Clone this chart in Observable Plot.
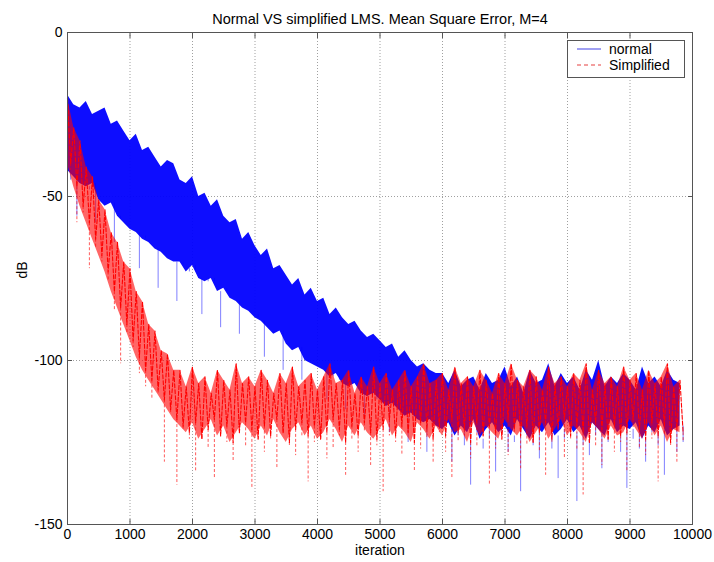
<!DOCTYPE html>
<html>
<head>
<meta charset="utf-8">
<script src="https://cdn.jsdelivr.net/npm/d3@7"></script>
<script src="https://cdn.jsdelivr.net/npm/@observablehq/plot@0.6"></script>
<style>
  body { margin: 0; background: #fff; }
  #wrap { position: relative; width: 714px; height: 562px; background: #fff; }
  #legend { position: absolute; left: 567px; top: 40px; }
</style>
</head>
<body>
<div id="wrap"></div>
<script>
// ---------- data ----------
const chartTitle = "Normal VS simplified LMS. Mean Square Error, M=4";
const xLabel = "iteration";
const yLabel = "dB";
const seriesNames = ["normal", "Simplified"];
const xTicks = [0, 1000, 2000, 3000, 4000, 5000, 6000, 7000, 8000, 9000, 10000];
const yTicks = [-150, -100, -50, 0];
const iterStep = 100; // values read every 100 iterations

// normal LMS: upper edge, lower edge of the dense band, deepest downward spike
const normalHi = [
  -19,-22,-23,-21,-25,-24,-23,-28,-27,-30,
  -33,-31,-36,-35,-38,-41,-39,-40,-45,-46,
  -44,-50,-49,-53,-51,-56,-58,-57,-63,-61,
  -65,-68,-66,-72,-71,-74,-77,-75,-80,-78,
  -82,-81,-86,-84,-87,-89,-88,-91,-93,-92,
  -94,-96,-95,-99,-97,-100,-102,-101,-103,-104,
  -104,-107,-103,-108,-106,-105,-109,-104,-107,-106,
  -102,-108,-105,-110,-103,-107,-106,-101,-108,-104,
  -107,-105,-109,-103,-106,-100,-108,-105,-107,-104,
  -106,-109,-102,-107,-105,-108,-103,-106,-107
];
const normalCore = [
  -42,-44,-46,-47,-46,-51,-53,-52,-56,-58,
  -60,-61,-63,-64,-66,-67,-69,-70,-70,-73,
  -71,-75,-76,-75,-79,-78,-81,-82,-84,-85,
  -87,-88,-90,-92,-91,-95,-97,-96,-100,-101,
  -102,-103,-105,-104,-107,-108,-107,-110,-111,-110,
  -112,-114,-113,-115,-117,-116,-118,-119,-118,-120,
  -121,-119,-123,-120,-122,-118,-124,-121,-119,-122,
  -120,-123,-118,-121,-124,-120,-122,-119,-123,-121,
  -118,-122,-120,-124,-119,-121,-123,-118,-122,-120,
  -121,-119,-124,-120,-122,-118,-123,-121,-120
];
const normalSpike = [
  -45,-56,-46,-48,-58,-51,-53,-64,-57,-58,
  -60,-72,-62,-64,-78,-67,-69,-82,-71,-72,
  -73,-86,-75,-76,-90,-79,-81,-92,-84,-85,
  -86,-99,-90,-92,-103,-95,-97,-106,-100,-101,
  -102,-112,-104,-106,-115,-108,-109,-118,-111,-112,
  -112,-122,-114,-116,-125,-117,-119,-128,-120,-121,
  -123,-131,-120,-126,-138,-122,-127,-124,-134,-121,
  -128,-125,-140,-123,-126,-130,-122,-127,-136,-124,
  -121,-143,-126,-129,-123,-133,-125,-120,-128,-139,
  -124,-127,-131,-122,-126,-135,-123,-128,-125
];

// simplified LMS
const simplifiedHi = [
  -20,-29,-33,-41,-44,-51,-54,-61,-64,-70,
  -72,-79,-82,-89,-91,-97,-98,-103,-103,
  -108,-102,-107,-105,-110,-103,-106,-109,-101,-107,
  -105,-108,-103,-106,-110,-104,-107,-102,-108,-106,
  -104,-109,-105,-101,-107,-106,-103,-110,-105,-108,
  -102,-107,-104,-109,-106,-103,-108,-105,-101,-107,
  -106,-104,-109,-102,-107,-105,-108,-103,-106,-110,
  -104,-107,-101,-106,-108,-103,-105,-109,-102,-107,
  -105,-108,-104,-106,-101,-109,-103,-107,-105,-108,
  -102,-106,-104,-109,-103,-107,-105,-101,-108,-106
];
const simplifiedCore = [
  -40,-47,-53,-58,-63,-68,-73,-79,-84,-89,
  -94,-99,-103,-106,-109,-112,-115,-118,-120,
  -122,-119,-124,-121,-118,-123,-120,-125,-122,-119,
  -121,-124,-120,-123,-118,-122,-125,-121,-119,-123,
  -120,-124,-122,-118,-121,-125,-120,-123,-119,-122,
  -124,-121,-118,-123,-120,-122,-125,-119,-121,-124,
  -120,-123,-118,-122,-121,-125,-119,-123,-120,-122,
  -124,-118,-121,-123,-120,-125,-122,-119,-124,-121,
  -118,-123,-120,-122,-125,-119,-121,-124,-120,-123,
  -122,-118,-121,-124,-119,-123,-120,-125,-121,-122
];
const simplifiedSpike = [
  -42,-58,-55,-72,-66,-70,-76,-85,-101,-92,
  -96,-104,-108,-112,-110,-131,-116,-138,-121,
  -124,-134,-121,-127,-136,-123,-125,-131,-120,-126,
  -139,-122,-128,-124,-133,-121,-126,-129,-123,-137,
  -125,-120,-130,-127,-123,-135,-124,-128,-122,-132,
  -126,-140,-123,-125,-129,-121,-134,-127,-124,-131,
  -122,-128,-136,-125,-123,-130,-126,-121,-138,-127,
  -124,-129,-122,-133,-126,-123,-128,-135,-125,-121,
  -130,-124,-127,-141,-123,-126,-132,-122,-128,-125,
  -134,-121,-127,-129,-124,-137,-123,-126,-131,-125
];

// ---------- build tables ----------
function rows(hi, core, spike, name) {
  return hi.map((h, k) => ({
    series: name,
    iteration: k * iterStep,
    spikeAt: k * iterStep + iterStep / 2,
    hi: h, core: core[k], spike: spike[k]
  }));
}
function zigzag(hi, core) {
  const out = [];
  hi.forEach((h, k) => {
    out.push({iteration: k * iterStep, dB: h});
    out.push({iteration: k * iterStep + iterStep / 2, dB: core[k]});
  });
  return out;
}
const normalRows = rows(normalHi, normalCore, normalSpike, seriesNames[0]);
const simplifiedRows = rows(simplifiedHi, simplifiedCore, simplifiedSpike, seriesNames[1]);
const simplifiedZig = zigzag(simplifiedHi, simplifiedCore);

const blue = "#0000ff", red = "#ff0000";
const font = "'Liberation Sans', Arial, Helvetica, sans-serif";
const gridStyle = {stroke: "#a0a0a0", strokeOpacity: 1, strokeDasharray: "1,2"};

const chart = Plot.plot({
  width: 714,
  height: 562,
  marginLeft: 67,
  marginRight: 22,
  marginTop: 32,
  marginBottom: 38,
  style: {fontFamily: font, fontSize: "14px", background: "#fff", color: "#000", overflow: "visible"},
  x: {domain: [0, 10000], label: null},
  y: {domain: [-150, 0], label: null},
  marks: [
    Plot.gridX(xTicks, gridStyle),
    Plot.gridY(yTicks, gridStyle),
    // normal: dense band + downward spikes
    Plot.ruleX(normalRows, {x: "spikeAt", y1: "core", y2: "spike", stroke: blue, strokeOpacity: 0.5, strokeWidth: 1}),
    Plot.areaY(normalRows, {x: "iteration", y1: "core", y2: "hi", fill: blue, fillOpacity: 0.95}),
    // simplified: dashed red drawn on top
    Plot.ruleX(simplifiedRows, {x: "spikeAt", y1: "core", y2: "spike", stroke: red, strokeOpacity: 0.65, strokeWidth: 1, strokeDasharray: "3,2"}),
    Plot.areaY(simplifiedRows, {x: "iteration", y1: "core", y2: "hi", fill: red, fillOpacity: 0.6}),
    Plot.line(simplifiedZig, {x: "iteration", y: "dB", stroke: red, strokeWidth: 1.1, strokeDasharray: "4,2"}),
    Plot.frame({stroke: "#555"}),
    Plot.axisX(xTicks, {tickSize: 0, tickPadding: 5, tickFormat: d => String(d), label: null, fontSize: 14}),
    Plot.axisX(xTicks, {tickSize: -5, tickFormat: () => "", label: null, stroke: "#555"}),
    Plot.axisX(xTicks, {anchor: "top", tickSize: -5, tickFormat: () => "", label: null, stroke: "#555"}),
    Plot.axisY(yTicks, {tickSize: 0, tickPadding: 5, tickFormat: d => String(d), label: null, fontSize: 14}),
    Plot.axisY(yTicks, {tickSize: -5, tickFormat: () => "", label: null, stroke: "#555"}),
    Plot.axisY(yTicks, {anchor: "right", tickSize: -5, tickFormat: () => "", label: null, stroke: "#555"}),
    Plot.text([chartTitle], {text: d => d, frameAnchor: "top", dy: -19, fontSize: 14.5}),
    Plot.text([xLabel], {text: d => d, frameAnchor: "bottom", dy: 30, fontSize: 14}),
    Plot.text([yLabel], {text: d => d, frameAnchor: "left", dx: -45, rotate: -90, fontSize: 14})
  ]
});

const wrap = document.getElementById("wrap");
wrap.appendChild(chart);

// ---------- legend box (MATLAB style, inside the axes) ----------
const lg = d3.select(wrap).append("svg")
  .attr("id", "legend")
  .attr("width", 118).attr("height", 38)
  .style("font-family", font).style("font-size", "14px");
lg.append("rect").attr("x", 0.5).attr("y", 0.5).attr("width", 117).attr("height", 37)
  .attr("fill", "#fff").attr("stroke", "#555");
const legendItems = [
  {name: seriesNames[0], color: "#8080ee", dash: null},
  {name: seriesNames[1], color: "#ee8080", dash: "4,3"}
];
legendItems.forEach((d, i) => {
  const cy = 9 + i * 16;
  lg.append("line").attr("x1", 10).attr("x2", 34).attr("y1", cy).attr("y2", cy)
    .attr("stroke", d.color).attr("stroke-width", 1.5)
    .attr("stroke-dasharray", d.dash);
  lg.append("text").attr("x", 42).attr("y", cy).attr("dy", "0.35em").text(d.name);
});
</script>
</body>
</html>
